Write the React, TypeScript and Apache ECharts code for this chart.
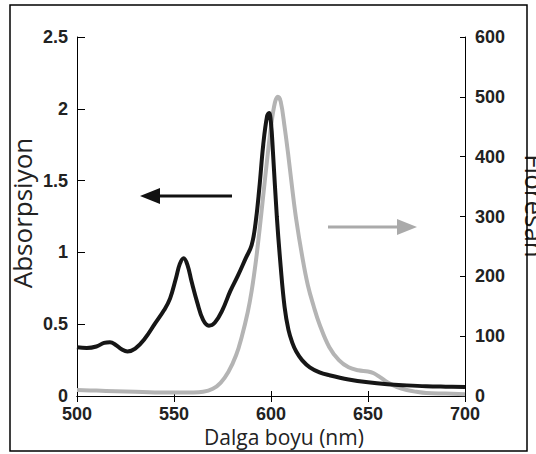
import React, { useEffect, useRef } from "react";
import * as echarts from "echarts";

// Absorption spectrum (left axis)
const absWavelength = [500, 505, 510, 514, 517, 520, 523, 526, 530, 535, 540, 545, 548, 551, 553, 555, 557, 559, 562, 565, 568, 571, 575, 579, 583, 587, 590, 592, 594, 596, 598, 599, 600, 601, 603, 605, 607, 609, 611, 613, 616, 620, 625, 630, 640, 650, 660, 670, 680, 690, 700];
const absValues = [0.34, 0.335, 0.345, 0.37, 0.375, 0.355, 0.325, 0.31, 0.33, 0.4, 0.5, 0.6, 0.68, 0.82, 0.92, 0.96, 0.91, 0.8, 0.65, 0.53, 0.49, 0.51, 0.6, 0.73, 0.84, 0.96, 1.05, 1.2, 1.45, 1.75, 1.95, 1.97, 1.9, 1.7, 1.25, 0.9, 0.62, 0.46, 0.37, 0.31, 0.25, 0.2, 0.165, 0.145, 0.115, 0.095, 0.082, 0.074, 0.068, 0.065, 0.063];

// Fluorescence spectrum (right axis)
const floWavelength = [500, 510, 520, 530, 540, 550, 560, 565, 570, 574, 578, 582, 585, 588, 590, 592, 594, 596, 598, 600, 602, 603.5, 605, 607, 609, 611, 613, 616, 619, 622, 625, 630, 635, 640, 645, 650, 653, 656, 660, 665, 670, 675, 680, 690, 700];
const floValues = [10, 9, 8, 7, 6, 6, 6, 7, 12, 22, 40, 68, 100, 140, 175, 220, 275, 335, 395, 450, 490, 500, 492, 450, 400, 345, 295, 235, 185, 150, 120, 82, 60, 48, 43, 41, 38, 32, 23, 15, 10, 7, 5, 4, 3];

const xTicks = { min: 500, max: 700, interval: 50 };
const leftTicks = { min: 0, max: 2.5, interval: 0.5 };
const rightTicks = { min: 0, max: 600, interval: 100 };

const xTitle = "Dalga boyu (nm)";
const leftTitle = "Absorpsiyon";
const rightTitle = "Floresan";

export default function App() {
  const ref = useRef<HTMLDivElement>(null);
  useEffect(() => {
    if (!ref.current) return;
    const chart = echarts.init(ref.current, null, { renderer: "svg" });
    const tickLabel = {
      fontFamily: "Liberation Sans",
      fontWeight: "bold" as const,
      fontSize: 18,
      color: "#222",
    };
    const absData = absWavelength.map((w, i) => [w, absValues[i]]);
    const floData = floWavelength.map((w, i) => [w, floValues[i]]);
    chart.setOption({
      animation: false,
      backgroundColor: "#fff",
      grid: { left: 77, right: 71, top: 37, bottom: 58 },
      xAxis: [
        {
          type: "value",
          position: "bottom",
          ...xTicks,
          axisLine: { show: true, lineStyle: { color: "#000", width: 1 } },
          axisTick: { show: true, inside: true, length: 5, lineStyle: { color: "#000" } },
          axisLabel: { ...tickLabel, margin: 9 },
          splitLine: { show: false },
        },
        {
          type: "value",
          position: "top",
          ...xTicks,
          axisLine: { show: true, lineStyle: { color: "#000", width: 1 } },
          axisTick: { show: true, inside: true, length: 6, lineStyle: { color: "#000" } },
          axisLabel: { show: false },
          splitLine: { show: false },
        },
      ],
      yAxis: [
        {
          type: "value",
          position: "left",
          ...leftTicks,
          axisLine: { show: true, lineStyle: { color: "#000", width: 1 } },
          axisTick: { show: true, inside: true, length: 8, lineStyle: { color: "#000" } },
          axisLabel: { ...tickLabel, margin: 9, lineHeight: 18, padding: [0, 0, 5, 0] },
          splitLine: { show: false },
        },
        {
          type: "value",
          position: "right",
          ...rightTicks,
          axisLine: { show: true, lineStyle: { color: "#000", width: 1 } },
          axisTick: { show: true, inside: true, length: 5, lineStyle: { color: "#000" } },
          axisLabel: { ...tickLabel, margin: 10, lineHeight: 18, padding: [0, 0, 5, 0] },
          splitLine: { show: false },
        },
      ],
      series: [
        {
          name: "Floresan",
          type: "line",
          xAxisIndex: 0,
          yAxisIndex: 1,
          data: floData,
          smooth: 0.4,
          showSymbol: false,
          lineStyle: { color: "#b4b4b4", width: 4 },
          z: 2,
        },
        {
          name: "Absorpsiyon",
          type: "line",
          xAxisIndex: 0,
          yAxisIndex: 0,
          data: absData,
          smooth: 0.4,
          showSymbol: false,
          lineStyle: { color: "#161616", width: 4 },
          z: 3,
        },
      ],
      graphic: [
        {
          type: "rect",
          shape: { x: 10, y: 5, width: 517, height: 446 },
          style: { fill: "none", stroke: "#000", lineWidth: 1.5 },
          z: 10,
        },
        {
          type: "text",
          x: 284,
          y: 437,
          style: {
            text: xTitle,
            fontFamily: "Open Sans",
            fontSize: 21,
            fill: "#222",
            align: "center",
            verticalAlign: "middle",
          },
        },
        {
          type: "text",
          x: 22,
          y: 213,
          rotation: Math.PI / 2,
          style: {
            text: leftTitle,
            fontFamily: "Open Sans",
            fontSize: 26,
            fill: "#222",
            align: "center",
            verticalAlign: "middle",
          },
        },
        {
          type: "text",
          x: 535,
          y: 206,
          rotation: -Math.PI / 2,
          style: {
            text: rightTitle,
            fontFamily: "Open Sans",
            fontSize: 26,
            fill: "#222",
            align: "center",
            verticalAlign: "middle",
          },
        },
        {
          type: "line",
          shape: { x1: 232, y1: 196, x2: 156, y2: 196 },
          style: { stroke: "#111", lineWidth: 3 },
        },
        {
          type: "polygon",
          shape: { points: [[140, 196], [160, 188], [160, 204]] },
          style: { fill: "#111" },
        },
        {
          type: "line",
          shape: { x1: 328, y1: 227, x2: 400, y2: 227 },
          style: { stroke: "#aaa", lineWidth: 3 },
        },
        {
          type: "polygon",
          shape: { points: [[417, 227], [397, 219], [397, 235]] },
          style: { fill: "#aaa" },
        },
      ],
    });
    return () => chart.dispose();
  }, []);
  return (
    <div
      ref={ref}
      style={{ position: "fixed", left: 0, top: 0, width: 536, height: 454, background: "#fff" }}
    />
  );
}
